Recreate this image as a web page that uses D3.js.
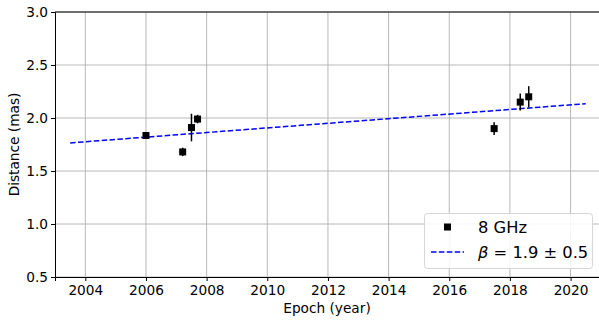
<!DOCTYPE html>
<html>
<head>
<meta charset="utf-8">
<script src="https://cdn.jsdelivr.net/npm/d3@7"></script>
<style>
  html, body { margin: 0; padding: 0; background: #fff; }
  svg { display: block; }
  text { font-family: "DejaVu Sans", sans-serif; fill: #000; }
</style>
</head>
<body>
<svg id="chart" width="599" height="320"></svg>
<script>
// 8 GHz distance measurements (epoch in decimal years, distance in mas)
const epochs    = [2006.0, 2007.21, 2007.5, 2007.7, 2017.48, 2018.34, 2018.62];
const distances = [1.835, 1.68, 1.91, 1.99, 1.90, 2.15, 2.20];
const errors    = [0.02, 0.04, 0.13, 0.04, 0.06, 0.08, 0.10];

// Linear fit, evaluated at its two ends
const fitYears  = [2003.5, 2020.5];
const fitValues = [1.765, 2.135];

const xTicks = [2004, 2006, 2008, 2010, 2012, 2014, 2016, 2018, 2020];
const yTicks = [0.5, 1.0, 1.5, 2.0, 2.5, 3.0];

const svg = d3.select("#chart");
const margin = { left: 55, top: 12, bottom: 277, right: 610 };

const x = d3.scaleLinear().domain([2003, 2021.3]).range([margin.left, margin.right]);
const y = d3.scaleLinear().domain([0.5, 3.0]).range([margin.bottom, margin.top]);

const grid = svg.append("g");
grid.selectAll("line.gx").data(xTicks).join("line")
  .attr("x1", d => x(d)).attr("x2", d => x(d))
  .attr("y1", margin.top).attr("y2", margin.bottom)
  .attr("stroke", "#b0b0b0").attr("stroke-width", 0.9);
grid.selectAll("line.gy").data(yTicks).join("line")
  .attr("x1", margin.left).attr("x2", margin.right)
  .attr("y1", d => y(d)).attr("y2", d => y(d))
  .attr("stroke", "#b0b0b0").attr("stroke-width", 0.9);

// Axes
const xAxis = svg.append("g")
  .attr("transform", `translate(0,${margin.bottom})`)
  .call(d3.axisBottom(x).tickValues(xTicks).tickFormat(d3.format("d")).tickSizeOuter(0).tickSize(4).tickPadding(4));
const yAxis = svg.append("g")
  .attr("transform", `translate(${margin.left},0)`)
  .call(d3.axisLeft(y).tickValues(yTicks).tickFormat(d3.format(".1f")).tickSizeOuter(0).tickSize(4).tickPadding(3));
[xAxis, yAxis].forEach(a => {
  a.selectAll("text").style("font-size", "13.7px").style("font-family", "DejaVu Sans");
  a.select(".domain").attr("stroke", "#000").attr("stroke-width", 1);
  a.selectAll(".tick line").attr("stroke", "#000").attr("stroke-width", 1);
});
// top spine
svg.append("line")
  .attr("x1", margin.left).attr("x2", margin.right)
  .attr("y1", margin.top).attr("y2", margin.top)
  .attr("stroke", "#000").attr("stroke-width", 1);

// Axis titles
svg.append("text")
  .attr("x", (margin.left + 599) / 2).attr("y", 313)
  .attr("text-anchor", "middle").style("font-size", "13.7px")
  .text("Epoch (year)");
svg.append("text")
  .attr("transform", `translate(19,${(margin.top + margin.bottom) / 2}) rotate(-90)`)
  .attr("text-anchor", "middle").style("font-size", "13.7px")
  .text("Distance (mas)");

// Fit line
const fitData = fitYears.map((d, i) => [d, fitValues[i]]);
svg.append("path")
  .datum(fitData)
  .attr("d", d3.line().x(d => x(d[0])).y(d => y(d[1])))
  .attr("fill", "none").attr("stroke", "#0000ff")
  .attr("stroke-width", 1.5).attr("stroke-dasharray", "5.5,2.4");

// Measurements with error bars
const pts = epochs.map((e, i) => ({ e, d: distances[i], err: errors[i] }));
const g = svg.append("g");
g.selectAll("line.err").data(pts).join("line")
  .attr("x1", p => x(p.e)).attr("x2", p => x(p.e))
  .attr("y1", p => y(p.d - p.err)).attr("y2", p => y(p.d + p.err))
  .attr("stroke", "#000").attr("stroke-width", 1.5);
const ms = 7;
g.selectAll("rect.pt").data(pts).join("rect")
  .attr("x", p => x(p.e) - ms / 2).attr("y", p => y(p.d) - ms / 2)
  .attr("width", ms).attr("height", ms).attr("fill", "#000");

// Legend
const lg = svg.append("g");
lg.append("rect")
  .attr("x", 424.5).attr("y", 213.5).attr("width", 168).attr("height", 55)
  .attr("rx", 3).attr("fill", "#fff").attr("fill-opacity", 0.85)
  .attr("stroke", "#d6d6d6").attr("stroke-width", 1);
lg.append("rect")
  .attr("x", 447.5 - ms / 2).attr("y", 227 - ms / 2).attr("width", ms).attr("height", ms).attr("fill", "#000");
lg.append("text").attr("x", 478).attr("y", 232.5).style("font-size", "16.3px").text("8 GHz");
lg.append("line")
  .attr("x1", 431).attr("x2", 464).attr("y1", 252).attr("y2", 252)
  .attr("stroke", "#0000ff").attr("stroke-width", 1.5).attr("stroke-dasharray", "5.5,2.4");
const t = lg.append("text").attr("x", 478).attr("y", 257.5).style("font-size", "16.3px");
t.append("tspan").style("font-style", "italic").text("β");
t.append("tspan").attr("xml:space", "preserve").text(" = 1.9 ± 0.5");
</script>
</body>
</html>
